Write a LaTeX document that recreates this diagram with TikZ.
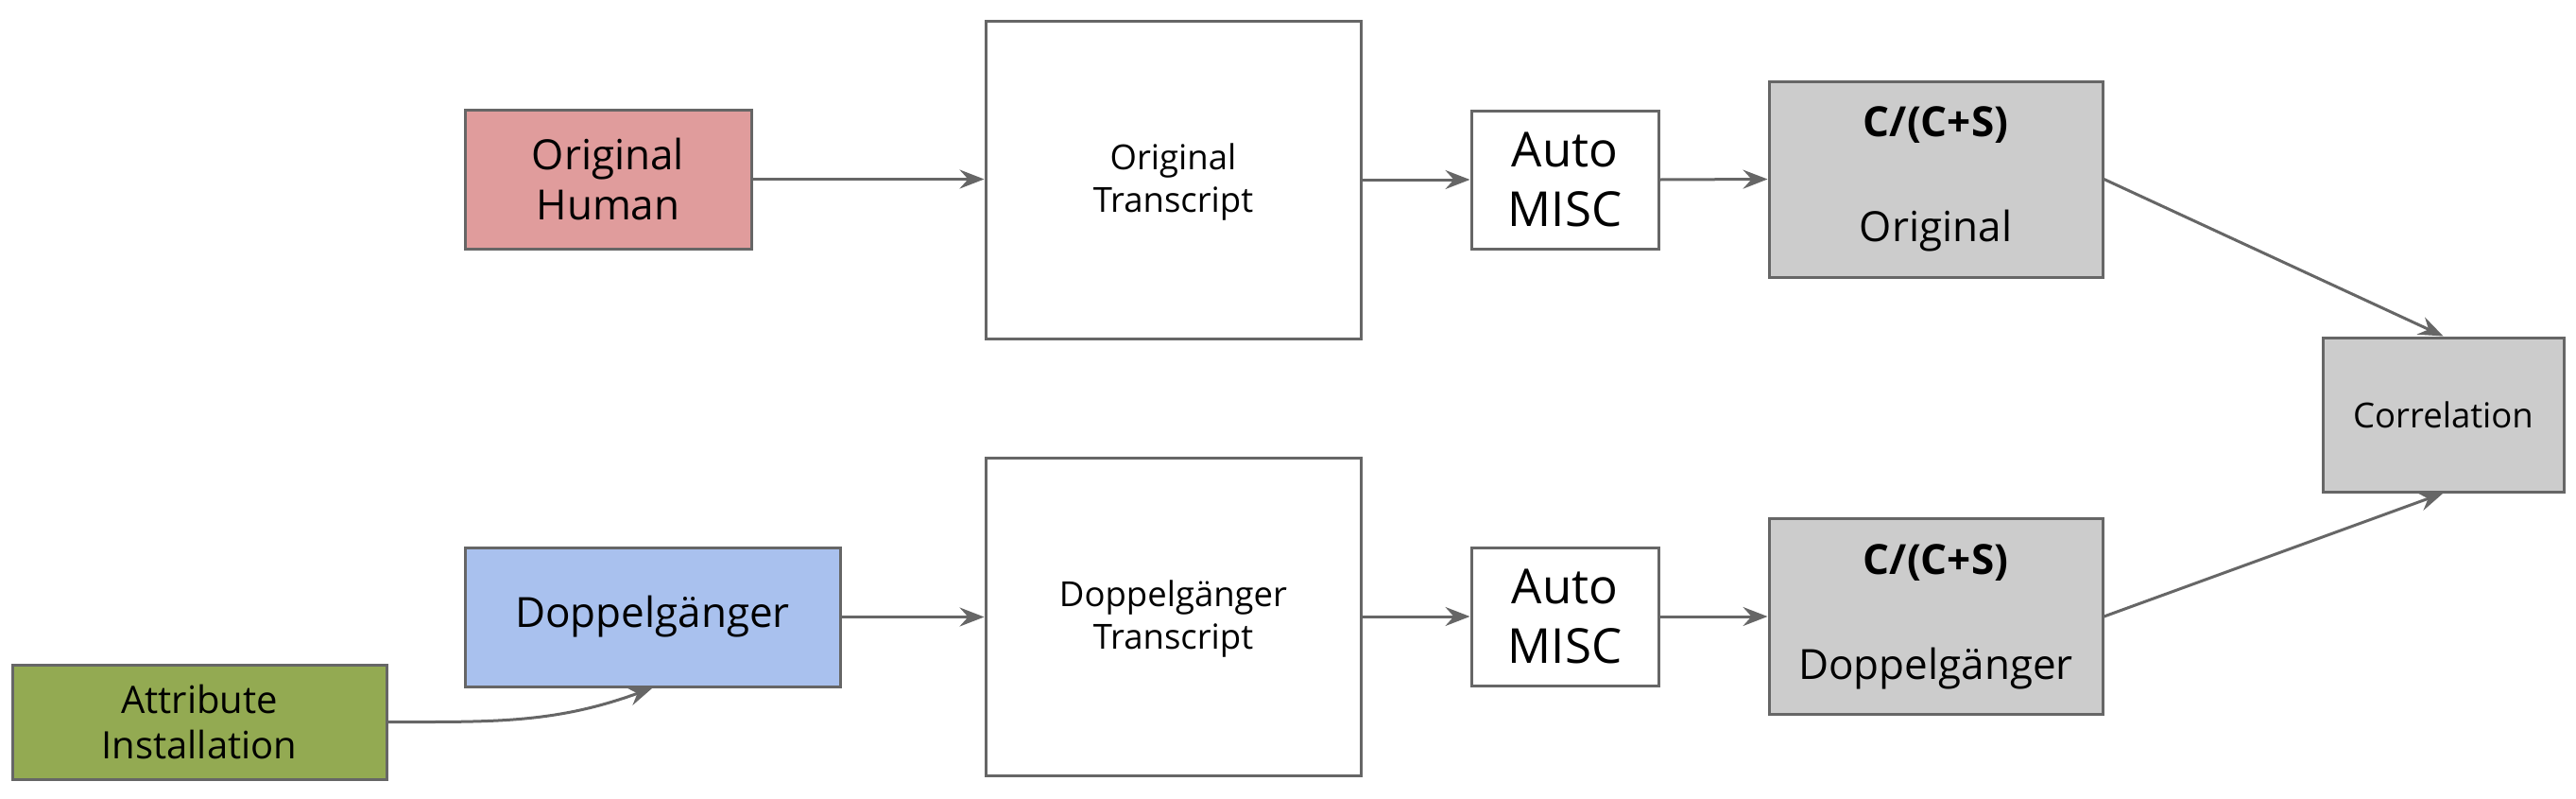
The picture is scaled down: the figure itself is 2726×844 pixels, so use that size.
\documentclass[tikz,border=0pt]{standalone}
\usepackage{fontspec}
\setmainfont{Open Sans}
\usetikzlibrary{arrows.meta}
\definecolor{bordergray}{HTML}{666666}
\definecolor{humred}{HTML}{E09C9C}
\definecolor{dopblue}{HTML}{A9C1EE}
\definecolor{attgreen}{HTML}{93AA52}
\definecolor{boxgray}{HTML}{CCCCCC}
\begin{document}
\begin{tikzpicture}[x=1pt,y=-1pt,
  box/.style={draw=bordergray, line width=3pt, rectangle, inner sep=0pt, align=center, text=black},
  big/.style={font=\fontsize{44}{53}\selectfont},
  mid/.style={font=\fontsize{36.5}{45.5}\selectfont},
  misc/.style={font=\fontsize{51}{63}\selectfont},
  attf/.style={font=\fontsize{40}{48}\selectfont},
  conn/.style={draw=bordergray, line width=3pt, -{Stealth[length=26pt,width=20pt,inset=9pt]}},
]
\fill[white] (0,0) rectangle (2726,844);
\useasboundingbox (0,0) rectangle (2726,844);

% top row
\node[box, big, fill=humred, minimum width=303pt, minimum height=147pt] (hum) at (643.5,189.5) {Original\\Human};
\node[box, mid, fill=white, minimum width=397pt, minimum height=336pt, text depth=4pt] (otr) at (1241.5,190) {Original\\Transcript};
\node[box, misc, fill=white, minimum width=198pt, minimum height=146pt] (am1) at (1656,190) {Auto\\MISC};
\node[box, big, fill=boxgray, minimum width=353pt, minimum height=207pt] (cs1) at (2048.5,189.5) {\textbf{C/(C+S)}\\[58pt]Original};

% right
\node[box, mid, fill=boxgray, minimum width=255pt, minimum height=163pt] (cor) at (2585.5,438.5) {Correlation};

% bottom row
\node[box, big, fill=dopblue, minimum width=397pt, minimum height=147pt] (dop) at (690.5,652.5) {Doppelgänger};
\node[box, mid, fill=white, minimum width=397pt, minimum height=336pt, text depth=4pt] (dtr) at (1241.5,652) {Doppelgänger\\Transcript};
\node[box, misc, fill=white, minimum width=198pt, minimum height=146pt] (am2) at (1656,652) {Auto\\MISC};
\node[box, big, fill=boxgray, minimum width=353pt, minimum height=207pt] (cs2) at (2048.5,652) {\textbf{C/(C+S)}\\[58pt]Doppelgänger};

\node[box, attf, fill=attgreen, minimum width=396pt, minimum height=121pt] (att) at (211,763.5) {Attribute\\Installation};

% connectors
\draw[conn] (hum.east) -- (otr.west |- hum.east);
\draw[conn] (otr.east) -- (am1.west);
\draw[conn] (am1.east) -- (cs1.west);
\draw[conn] (cs1.east) -- (cor.north);
\draw[conn] (dop.east) -- (dtr.west |- dop.east);
\draw[conn] (dtr.east) -- (am2.west);
\draw[conn] (am2.east) -- (cs2.west);
\draw[conn] (cs2.east) -- (cor.south);
\draw[conn] (att.east) to[out=0, in=200] (dop.south);
\end{tikzpicture}
\end{document}
